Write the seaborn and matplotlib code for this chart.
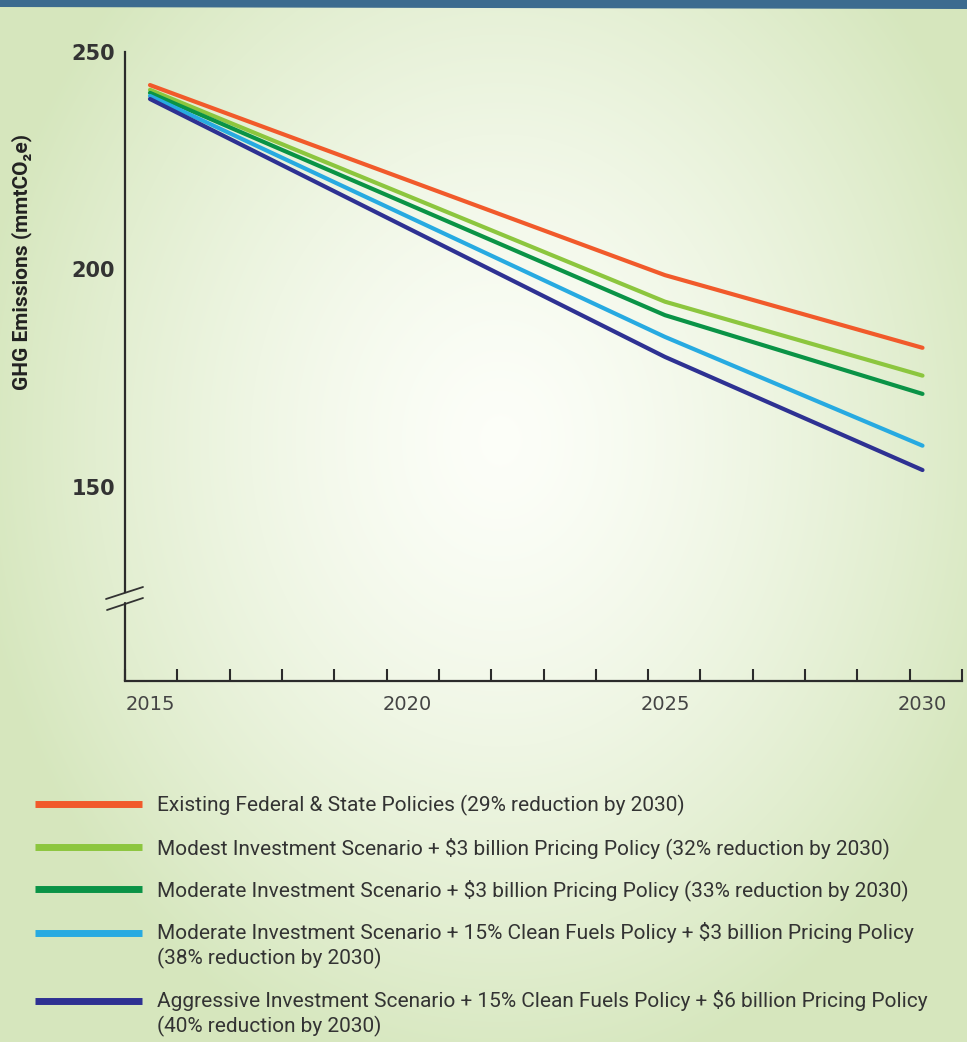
import numpy as np
import pandas as pd
import matplotlib
matplotlib.use("Agg")
import matplotlib.pyplot as plt
import seaborn as sns

# values (mmtCO2e)
years = [2015, 2025, 2030]
existing = [242.4, 198.7, 182.0]
modest = [241.3, 192.6, 175.6]
moderate = [240.6, 189.5, 171.4]
moderate_cf = [239.9, 184.5, 159.5]
aggressive = [239.2, 179.9, 153.9]

scenarios = [
    "Existing Federal & State Policies (29% reduction by 2030)",
    "Modest Investment Scenario + $3 billion Pricing Policy (32% reduction by 2030)",
    "Moderate Investment Scenario + $3 billion Pricing Policy (33% reduction by 2030)",
    "Moderate Investment Scenario + 15% Clean Fuels Policy + $3 billion Pricing Policy\n(38% reduction by 2030)",
    "Aggressive Investment Scenario + 15% Clean Fuels Policy + $6 billion Pricing Policy\n(40% reduction by 2030)",
]
colors = ["#f15a2b", "#8cc63e", "#0a9346", "#27aae1", "#2e3192"]
y_ticks = [150, 200, 250]
x_labels = [2015, 2020, 2025, 2030]

series = [existing, modest, moderate, moderate_cf, aggressive]
df = pd.DataFrame({
    "year": years * len(series),
    "value": [v for s in series for v in s],
    "scenario": [name for name in scenarios for _ in years],
})

sns.set_theme(style="white")
plt.rcParams["font.family"] = ["Roboto", "DejaVu Sans"]

W, H = 967, 1042
fig = plt.figure(figsize=(W / 100, H / 100), dpi=100)

# soft radial background + top bar
bg = fig.add_axes([0, 0, 1, 1], zorder=-10)
yy, xx = np.mgrid[0:H, 0:W]
r = np.sqrt(((xx - 500) / 620.0) ** 2 + ((yy - 440) / 760.0) ** 2)
t = np.clip(r / 0.85, 0, 1) ** 1.4
c0 = np.array([0.99, 0.997, 0.975])
c1 = np.array([0.840, 0.905, 0.745])
img = c0 + (c1 - c0) * t[..., None]
bg.imshow(img, aspect="auto", extent=(0, W, H, 0))
bg.fill([0, W, W, 0], [0, 0, 9, 7], color="#3c6b8f", lw=0)
# axis break marks
bg.plot([106, 143], [599, 587], color="#333333", lw=1.3)
bg.plot([107, 143], [610, 598], color="#333333", lw=1.3)
bg.set_xlim(0, W)
bg.set_ylim(H, 0)
bg.axis("off")

ax = fig.add_axes([125 / W, 1 - 681 / H, (962 - 125) / W, (681 - 52) / H])
ax.patch.set_alpha(0)

sns.lineplot(data=df, x="year", y="value", hue="scenario", hue_order=scenarios,
             palette=colors, lw=3, ax=ax)

x0, x1 = 2014.515, 2030.767
y0, y1 = 105.4, 250
ax.set_xlim(x0, x1)
ax.set_ylim(y0, y1)

ink = "#2b2b2b"
for s in ["top", "right"]:
    ax.spines[s].set_visible(False)
for s in ["left", "bottom"]:
    ax.spines[s].set_color(ink)
    ax.spines[s].set_linewidth(1.6)
ax.spines["left"].set_bounds(125.9, 250)
ax.plot([x0, x0], [y0, 123.3], color=ink, lw=1.6, clip_on=False)

ax.set_yticks(y_ticks)
ax.tick_params(axis="y", direction="in", length=15, width=1.5, color=ink,
               pad=7, labelsize=15, labelcolor="#333333")
for lab in ax.get_yticklabels():
    lab.set_fontfamily("DejaVu Sans")
    lab.set_fontweight("bold")

ax.set_xticks(x_labels)
ax.set_xticks(np.linspace(x0, x1, 17), minor=True)
ax.tick_params(axis="x", which="major", length=0, pad=10, labelsize=14,
               labelcolor="#444444")
ax.tick_params(axis="x", which="minor", direction="in", length=9, width=1.5,
               color=ink, bottom=True)
for lab in ax.get_xticklabels():
    lab.set_fontfamily("DejaVu Sans")

ax.set_xlabel("")
ax.set_ylabel("GHG Emissions (mmtCO₂e)", fontsize=15, fontweight="bold",
              color="#222222")
ax.yaxis.set_label_coords(-0.111, 0.666)

handles, labels = ax.get_legend_handles_labels()
leg = ax.legend(handles, labels, loc="upper left",
                bbox_to_anchor=(35 / W, 1 - 795 / H), bbox_transform=fig.transFigure,
                frameon=False, fontsize=15, handlelength=5.15, handletextpad=0.72,
                labelspacing=1.0, borderpad=0, borderaxespad=0)
for h, label in zip(leg.get_lines(), labels):
    h.set_linewidth(5)
    h.set_solid_capstyle("butt")
    if "\n" in label:
        h.set_ydata(np.asarray(h.get_ydata()) + 9.0)
for tx in leg.get_texts():
    tx.set_color("#333333")
    tx.set_linespacing(1.3)

fig.savefig("out.png", dpi=100)
